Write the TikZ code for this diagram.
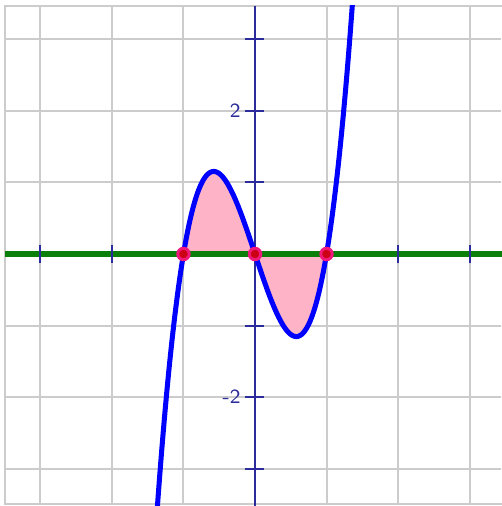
\documentclass[tikz,border=0pt]{standalone}
\usepackage{xcolor}
\usepackage{tikz}
\usetikzlibrary{arrows.meta,positioning,calc}
\definecolor{gridgray}{HTML}{CCCCCC}
\definecolor{axisnavy}{HTML}{2B2B9C}
\definecolor{curveblue}{HTML}{0000FF}
\definecolor{axisgreen}{HTML}{0A800A}
\definecolor{lobepink}{HTML}{FFB3C6}
\definecolor{rootred}{HTML}{CC0014}
\definecolor{rootring}{HTML}{F0187A}

\begin{document}
\begin{tikzpicture}[x=1cm,y=1cm,
    gridline/.style={gridgray,line width=0.8pt},
    ticklabel/.style={font=\sffamily\footnotesize,text=axisnavy,inner sep=1pt}]
  \useasboundingbox (-3.566,-3.524) rectangle (3.441,3.552);
  % grid and frame
  \foreach \x in {-3,-2,-1,1,2,3}
    \draw[gridline] (\x,-3.5) -- (\x,3.47);
  \foreach \y in {-3,-2,-1,1,2,3}
    \draw[gridline] (-3.5,\y) -- (3.44,\y);
  \draw[gridline] (3.45,3.47) -- (-3.5,3.47) -- (-3.5,-3.5) -- (3.45,-3.5);
  % shaded lobes between the curve and the axis
  \fill[lobepink] plot[domain=-1:1,samples=60] (\x,{3*\x*\x*\x-3*\x}) -- cycle;
  % axes
  \draw[axisnavy,line width=0.8pt] (0,-3.55) -- (0,3.47);
  \foreach \y in {-3,-2,-1,1,2,3}
    \draw[axisnavy,line width=0.8pt] (-0.14,\y) -- (0.13,\y);
  \draw[axisgreen,line width=2pt] (-3.5,0) -- (3.45,0);
  \foreach \x in {-3,-2,2,3}
    \draw[axisnavy,line width=0.8pt] (\x,-0.13) -- (\x,0.13);
  \node[ticklabel,anchor=east] (lbltwo) at (-0.16,2) {2};
  \node[ticklabel,anchor=east] (lblmtwo) at (-0.16,-2) {-2};
  % the cubic
  \begin{scope}
    \clip (-3.5,-3.55) rectangle (3.45,3.47);
    \draw[curveblue,line width=2pt,line join=round]
      plot[domain=-1.38:1.37,samples=120,smooth] (\x,{3*\x*\x*\x-3*\x});
  \end{scope}
  % roots
  \foreach \x in {-1,0,1}
    \filldraw[fill=rootred,draw=rootring,line width=1.2pt] (\x,0) circle (0.08);
\end{tikzpicture}
\end{document}
